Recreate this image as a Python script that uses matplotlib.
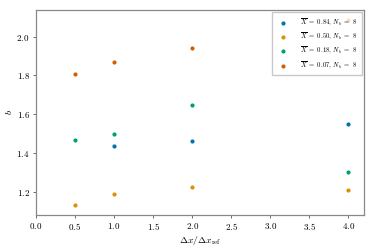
import matplotlib
matplotlib.use('Agg')
import matplotlib.pyplot as plt

plt.rcParams['font.family'] = 'serif'
plt.rcParams['font.serif'] = ['cmr10']
plt.rcParams['mathtext.fontset'] = 'cm'
plt.rcParams['axes.formatter.use_mathtext'] = True

dx = [0.5, 1.0, 2.0, 4.0]
labels = [r'$\overline{X}\ =\ 0.84$, $N_b\ =\ 8$',
          r'$\overline{X}\ =\ 0.50$, $N_b\ =\ 8$',
          r'$\overline{X}\ =\ 0.18$, $N_b\ =\ 8$',
          r'$\overline{X}\ =\ 0.07$, $N_b\ =\ 8$']
b_084 = [None, 1.437, 1.462, 1.550]
b_050 = [1.129, 1.189, 1.222, 1.208]
b_018 = [1.469, 1.498, 1.646, 1.301]
b_007 = [1.808, 1.868, 1.943, 2.086]
colors = ['#0173b2', '#de8f05', '#029e73', '#d55e00']

fig = plt.figure(figsize=(3.74, 2.49), dpi=100)
ax = fig.add_axes([0.096, 0.137, 0.877, 0.823])

for series, lab, c in zip([b_084, b_050, b_018, b_007], labels, colors):
    xs = [x for x, v in zip(dx, series) if v is not None]
    ys = [v for v in series if v is not None]
    ax.scatter(xs, ys, s=9, color=c, label=lab, linewidths=0)

ax.set_xlim(0, 4.2)
ax.set_ylim(1.08, 2.138)
ax.set_xticks([0, 0.5, 1, 1.5, 2, 2.5, 3, 3.5, 4])
ax.set_yticks([1.2, 1.4, 1.6, 1.8, 2.0])
ax.tick_params(labelsize=6.5, length=2.5, width=0.6, color='#555555', pad=2)
for s in ax.spines.values():
    s.set_color('#888888')
    s.set_linewidth(0.9)
ax.set_xlabel(r'$\Delta x/\Delta x_{\rm ref}$', fontsize=7, labelpad=1)
ax.set_ylabel(r'$b$', fontsize=7, labelpad=2)
ax.legend(loc='upper right', fontsize=4.8, handletextpad=1.6, borderpad=0.7,
          labelspacing=0.45, fancybox=False, edgecolor='#bbbbbb', framealpha=0.8,
          borderaxespad=0.3)

fig.savefig('out.png', dpi=100)
